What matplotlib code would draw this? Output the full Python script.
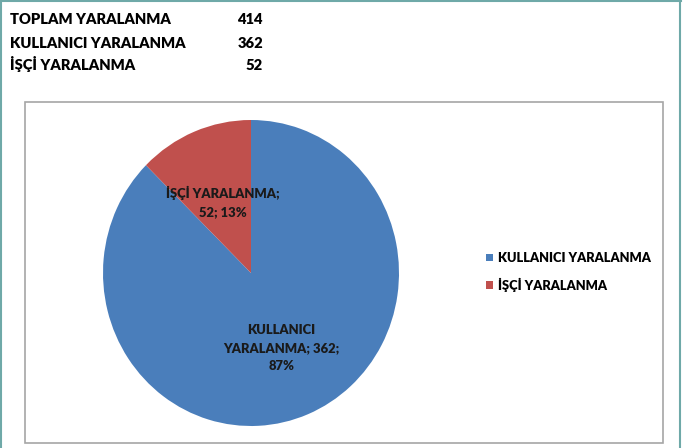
import matplotlib
matplotlib.use('Agg')
import matplotlib.pyplot as plt
from matplotlib.patches import Rectangle
from matplotlib.lines import Line2D

# data
summary_names = ['TOPLAM YARALANMA', 'KULLANICI YARALANMA', 'İŞÇİ YARALANMA']
summary_values = [414, 362, 52]
categories = ['KULLANICI YARALANMA', 'İŞÇİ YARALANMA']
values = [362, 52]
colors = ['#4A7EBB', '#C0504D']

plt.rcParams['font.family'] = ['Lato', 'DejaVu Sans']
WT = 'heavy'

W, H = 684, 448
fig = plt.figure(figsize=(W / 100, H / 100), dpi=100)

def fx(px):
    return px / W

def fy(py):
    return 1 - py / H

# outer teal frame (sheet border)
tc = '#6FA9A8'
fig.add_artist(Line2D([fx(1), fx(1)], [fy(0), fy(448)], color=tc, lw=1.5))
fig.add_artist(Line2D([fx(680), fx(680)], [fy(0), fy(448)], color=tc, lw=1.5))
fig.add_artist(Line2D([fx(0), fx(681)], [fy(1), fy(1)], color=tc, lw=1.5))

# summary table on top
for i, (n, v) in enumerate(zip(summary_names, summary_values)):
    y = fy(24.5 + 23 * i)
    fig.text(fx(10), y, n, fontsize=10.6, fontweight=WT, va='baseline', ha='left')
    fig.text(fx(263), y, str(v), fontsize=10.6, fontweight=WT, va='baseline', ha='right')

# chart area box
fig.add_artist(Rectangle((fx(25), fy(443)), fx(663) - fx(25), fy(102) - fy(443),
                         transform=fig.transFigure, fill=False, ec='#A6A6A6', lw=1.2))

# pie
cx, cy, rx, ry = 251, 273, 148, 153
ax = fig.add_axes([fx(cx - rx), fy(cy + ry), 2 * rx / W, 2 * ry / H])
total = sum(values)
pcts = [round(v / total * 100) for v in values]
labels = [f'KULLANICI\nYARALANMA; {values[0]};\n{pcts[0]}%',
          f'{categories[1]};\n{values[1]}; {pcts[1]}%']
wedges, texts = ax.pie(values, colors=colors, startangle=90, counterclock=False,
                       labels=labels, labeldistance=0.5,
                       textprops=dict(fontsize=9.4, fontweight=WT, color='#1a1a1a'))
for t in texts:
    t.set_ha('center')
    t.set_va('center')
    t.set_multialignment('center')
    t.set_linespacing(1.6)
# data label of the big slice sits a bit further out
x0, y0 = texts[0].get_position()
texts[0].set_position((x0 * 1.06, y0 * 1.06))
ax.set_aspect('auto')
ax.set_xlim(-1, 1)
ax.set_ylim(-1, 1)
ax.axis('off')

fig.legend(wedges, categories, loc='center left', bbox_to_anchor=(fx(486), fy(272)),
           frameon=False, prop=dict(size=9.3, weight=WT), handlelength=0.55, handleheight=0.55,
           handletextpad=0.35, labelspacing=1.05, borderaxespad=0, borderpad=0)

fig.savefig('out.png', dpi=100)
